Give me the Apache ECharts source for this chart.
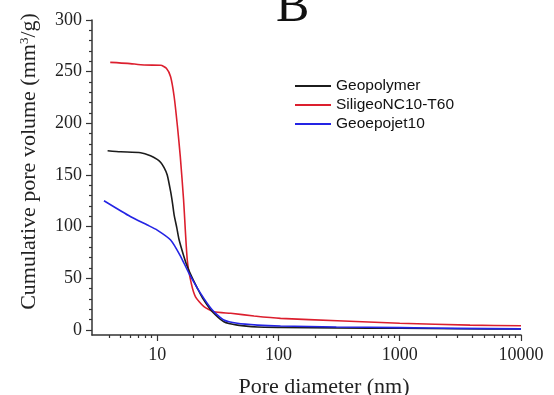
<!DOCTYPE html>
<html>
<head>
<meta charset="utf-8">
<script src="https://cdn.jsdelivr.net/npm/echarts@6/dist/echarts.min.js"></script>
<style>
  html, body { margin: 0; padding: 0; background: #fff; }
  #chart { width: 554px; height: 395px; }
</style>
</head>
<body>
<div id="chart"></div>
<script>
// series names (legend order)
const names = ['Geopolymer', 'SiligeoNC10-T60', 'Geoepojet10'];
const colors = ['#1c1c1c', '#dc1f2e', '#2424e4'];

// Geopolymer: pore diameter (nm) / cumulative volume (mm3/g)
const geoD = [3.9, 5.0, 7.3, 8.8, 10.0, 10.7, 11.4, 12.1, 12.9, 13.4, 13.8, 14.5, 15.1, 16.6, 17.6, 19.5, 21.5, 23.6, 28.5, 35.5, 45.8, 67, 104, 300, 1000, 3000, 10000];
const geoV = [173.4, 172.4, 171.5, 168.6, 165, 162, 157, 150, 134, 122, 111, 99, 88, 71, 62, 50, 40, 31, 17.5, 7.8, 4.6, 2.8, 2.4, 1.9, 1.5, 1.1, 0.8];

// SiligeoNC10-T60
const silD = [4.1, 5.7, 7.8, 10.7, 11.9, 12.9, 13.8, 14.7, 15.5, 16.5, 17.7, 19.1, 20.7, 24.3, 29.4, 40.4, 62.9, 104, 305, 1000, 3800, 10000];
const silV = [259, 258, 256.4, 256.2, 253.2, 245, 225.7, 196.6, 168, 126, 67.6, 45, 32, 22.4, 17.5, 16, 13.4, 11.1, 8.8, 6.4, 4.6, 3.9];

// Geoepojet10
const epoD = [3.64, 6.05, 8.3, 10, 12.9, 15.4, 18.3, 22.8, 28.5, 35.5, 45.8, 67, 104, 300, 1000, 3000, 10000];
const epoV = [125, 109.5, 101.5, 96.6, 87, 72.4, 54.7, 35.3, 19.2, 9.5, 6.3, 4.6, 3.7, 2.8, 2.1, 1.4, 0.9];

// axis ticks
const xMajorTicks = [10, 100, 1000, 10000];
const xMinorTicks = [4, 5, 6, 7, 8, 9, 20, 30, 40, 50, 60, 70, 80, 90,
  200, 300, 400, 500, 600, 700, 800, 900, 2000, 3000, 4000, 5000, 6000, 7000, 8000, 9000];
const yMajorTicks = [0, 50, 100, 150, 200, 250, 300];
const yMinorTicks = [10, 20, 30, 40, 60, 70, 80, 90, 110, 120, 130, 140, 160, 170, 180, 190,
  210, 220, 230, 240, 260, 270, 280, 290];

const zip = (xs, ys) => xs.map((x, i) => [x, ys[i]]);

const serif = 'Liberation Serif';
const axisColor = '#333';

const chart = echarts.init(document.getElementById('chart'));

const option = {
  animation: false,
  backgroundColor: '#fff',
  grid: { left: 92, right: 33, top: 20, bottom: 60, outerBoundsMode: 'none', containLabel: false },
  graphic: [
    {
      type: 'text',
      left: 276,
      top: -17,
      style: { text: 'B', font: '50px "Liberation Serif"', fill: '#111' }
    }
  ],
  legend: {
    data: names,
    orient: 'vertical',
    left: 295,
    top: 78,
    padding: 0,
    icon: 'rect',
    itemWidth: 36,
    itemHeight: 2,
    itemGap: 3,
    textStyle: { fontFamily: 'Liberation Sans', fontSize: 15.5, color: '#111', lineHeight: 16 }
  },
  xAxis: [
    {
      type: 'log',
      logBase: 10,
      min: 2.9,
      max: 10000,
      axisLine: { onZero: false, lineStyle: { color: axisColor, width: 1.5 } },
      axisTick: { customValues: xMajorTicks, length: 6, lineStyle: { color: axisColor, width: 1.2 } },
      axisLabel: {
        customValues: xMajorTicks, fontFamily: serif, fontSize: 18, color: '#222', margin: 11,
        formatter: v => String(v)
      },
      splitLine: { show: false },
      minorTick: { show: false },
      name: 'Pore diameter (nm)',
      nameLocation: 'middle',
      nameGap: 41,
      nameTextStyle: { fontFamily: serif, fontSize: 22, color: '#222', padding: [0, 0, 0, 35] }
    },
    {
      type: 'log',
      logBase: 10,
      min: 2.9,
      max: 10000,
      position: 'bottom',
      offset: 0,
      axisLine: { show: false, onZero: false },
      axisTick: { customValues: xMinorTicks, length: 3, lineStyle: { color: axisColor, width: 1.2 } },
      axisLabel: { show: false },
      splitLine: { show: false }
    }
  ],
  yAxis: [
    {
      type: 'value',
      min: -5,
      max: 300,
      position: 'left',
      axisLine: { show: true, onZero: false, lineStyle: { color: axisColor, width: 1.5 } },
      axisTick: { customValues: yMajorTicks, length: 6, lineStyle: { color: axisColor, width: 1.2 } },
      axisLabel: { customValues: yMajorTicks, fontFamily: serif, fontSize: 18, color: '#222', margin: 10 },
      splitLine: { show: false },
      name: 'Cumulative pore volume (mm{sup|3}/g)',
      nameLocation: 'middle',
      nameGap: 52,
      nameTextStyle: {
        fontFamily: serif, fontSize: 22, color: '#222', padding: [0, 0, 0, 32],
        rich: { sup: { fontFamily: serif, fontSize: 13, color: '#222', verticalAlign: 'top', lineHeight: 13 } }
      }
    },
    {
      type: 'value',
      min: -5,
      max: 300,
      position: 'left',
      offset: 0,
      axisLine: { show: false, onZero: false },
      axisTick: { customValues: yMinorTicks, length: 3, lineStyle: { color: axisColor, width: 1.2 } },
      axisLabel: { show: false },
      splitLine: { show: false }
    }
  ],
  series: [
    { name: names[0], type: 'line', data: zip(geoD, geoV), z: 3 },
    { name: names[1], type: 'line', data: zip(silD, silV), z: 2 },
    { name: names[2], type: 'line', data: zip(epoD, epoV), z: 4 }
  ].map((s, i) => Object.assign(s, {
    xAxisIndex: 0,
    yAxisIndex: 0,
    symbol: 'none',
    smooth: 0.2,
    color: colors[i],
    lineStyle: { color: colors[i], width: 1.6 }
  }))
};

chart.setOption(option);
</script>
</body>
</html>
